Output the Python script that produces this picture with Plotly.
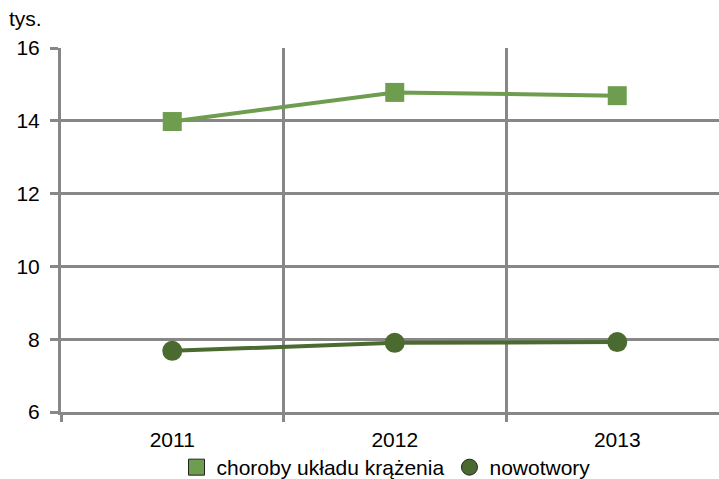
import plotly.graph_objects as go

years = ["2011", "2012", "2013"]
choroby = [13.98, 14.78, 14.69]
nowotwory = [7.68, 7.90, 7.92]
y_ticks = [6, 8, 10, 12, 14, 16]
name_choroby = "choroby układu krążenia"
name_nowotwory = "nowotwory"
unit_label = "tys."

c_light = "#6E9D4F"
c_dark = "#4B6A30"
grid = "#878787"
font = dict(family="Liberation Sans, Arial, sans-serif", size=21, color="#000000")

fig = go.Figure()
fig.add_trace(go.Scatter(x=years, y=choroby, mode="lines+markers", showlegend=False,
                         line=dict(color=c_light, width=4),
                         marker=dict(symbol="square", size=19, color=c_light)))
fig.add_trace(go.Scatter(x=years, y=nowotwory, mode="lines+markers", showlegend=False,
                         line=dict(color=c_dark, width=4),
                         marker=dict(symbol="circle", size=20, color=c_dark)))
# legend entries (marker only, with outline as in the reference)
fig.add_trace(go.Scatter(x=[None], y=[None], mode="markers", name=name_choroby,
                         marker=dict(symbol="square", size=16, color=c_light,
                                     line=dict(color="#222222", width=1))))
fig.add_trace(go.Scatter(x=[None], y=[None], mode="markers", name=name_nowotwory,
                         marker=dict(symbol="circle", size=16, color=c_dark,
                                     line=dict(color="#222222", width=1))))

W, H = 719, 479
ml, mr, mt, mb = 61, 0, 48, 67
pw = W - ml - mr
ph = H - mt - mb

fig.update_layout(
    width=W, height=H,
    margin=dict(l=ml, r=mr, t=mt, b=mb, autoexpand=False),
    paper_bgcolor="white", plot_bgcolor="white",
    font=font,
    showlegend=True,
    legend=dict(orientation="h", x=(386 - ml) / pw, xanchor="center",
                y=-(447 - mt - ph) / ph, yanchor="top", font=font,
                itemwidth=30, tracegroupgap=0, traceorder="normal",
                bgcolor="rgba(0,0,0,0)"),
    xaxis=dict(type="category", categoryorder="array", categoryarray=years,
               range=[-0.5, -0.5 + pw / 222.5], automargin=False,
               tickson="boundaries", ticks="outside", ticklen=7, tickwidth=3,
               tickcolor=grid, showgrid=True, gridcolor=grid, gridwidth=3,
               showline=True, linecolor=grid, linewidth=3,
               zeroline=False, tickfont=font, ticklabelstandoff=7),
    yaxis=dict(range=[6, 16], tickvals=y_ticks, ticktext=[str(v) for v in y_ticks],
               automargin=False,
               ticks="outside", ticklen=8, tickwidth=3, tickcolor=grid,
               showgrid=True, gridcolor=grid, gridwidth=3,
               showline=True, linecolor=grid, linewidth=3, zeroline=False,
               tickfont=font, ticklabelstandoff=6),
    annotations=[dict(text=unit_label, xref="paper", yref="paper",
                      x=(7 - ml) / pw, y=1.0, yshift=16, xanchor="left", yanchor="bottom",
                      showarrow=False, font=font)],
)

fig.write_html("out.html", config={"displayModeBar": False},
               post_script="document.body.style.margin='0';document.body.style.overflow='hidden';")
